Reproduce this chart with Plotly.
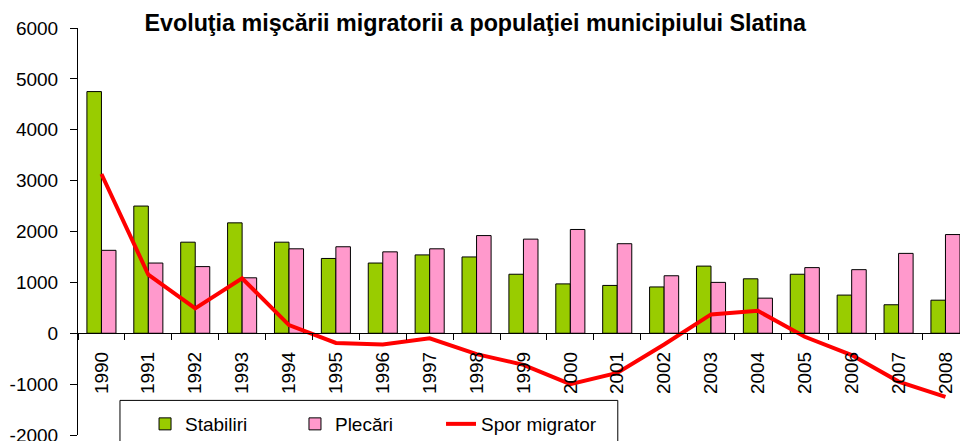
import plotly.graph_objects as go

years = [str(y) for y in range(1990, 2009)]
stabiliri = [4750, 2500, 1790, 2170, 1790, 1470, 1380, 1540, 1500, 1160, 970, 940, 910, 1320, 1070, 1160, 750, 560, 650]
plecari = [1630, 1380, 1310, 1090, 1660, 1700, 1600, 1660, 1920, 1850, 2040, 1760, 1130, 1000, 690, 1290, 1250, 1570, 1940]
spor = [3130, 1150, 490, 1080, 160, -190, -220, -100, -410, -620, -1000, -780, -220, 370, 440, -70, -430, -950, -1250]
y_ticks = [-2000, -1000, 0, 1000, 2000, 3000, 4000, 5000, 6000]
y_tick_text = ["-2000", "-1000", "0", "1000", "2000", "3000", "4000", "5000", "6000"]

FONT = "Liberation Sans, Arial, sans-serif"

fig = go.Figure()
fig.add_trace(go.Bar(x=years, y=stabiliri, name="Stabiliri", legend="legend",
                     marker=dict(color="#99CC00", line=dict(color="black", width=1))))
fig.add_trace(go.Bar(x=years, y=plecari, name="Plecări", legend="legend2",
                     marker=dict(color="#FF99CC", line=dict(color="black", width=1))))
fig.add_trace(go.Scatter(x=years, y=spor, name="Spor migrator", mode="lines", legend="legend3",
                         line=dict(color="#FF0000", width=4)))

leg_common = dict(orientation="h", xanchor="left", y=0.027, yanchor="middle",
                  bgcolor="rgba(0,0,0,0)", font=dict(size=19, family=FONT))

fig.update_layout(
    width=960, height=441,
    margin=dict(l=78, r=0, t=28, b=6, autoexpand=False),
    paper_bgcolor="white", plot_bgcolor="white",
    barmode="group", bargap=0.38, bargroupgap=0,
    font=dict(family=FONT, size=19, color="black"),
    title=dict(text="<b>Evoluţia mişcării migratorii a populaţiei municipiului Slatina</b>",
               x=0.495, xanchor="center", yref="container", y=(441 - 23) / 441, yanchor="middle",
               font=dict(size=23.3, family=FONT, color="black")),
    showlegend=True,
    legend=dict(x=0.0760, **leg_common),
    legend2=dict(x=0.2460, **leg_common),
    legend3=dict(x=0.4116, **leg_common),
    xaxis=dict(type="category", range=[-0.5, 18.31], anchor="free", position=0.25, automargin=False,
               showline=True, linecolor="black", linewidth=1,
               ticks="outside", ticklen=6, tickcolor="black", tickson="boundaries",
               tickangle=-90, ticklabelstandoff=10, showgrid=False, zeroline=False,
               ticklabeloverflow="allow"),
    yaxis=dict(range=[-2000, 6000], tickvals=y_ticks, ticktext=y_tick_text, automargin=False,
               showline=True, linecolor="black", linewidth=1,
               ticks="outside", ticklen=7, tickcolor="black", showgrid=False, zeroline=False,
               ticklabelstandoff=8, ticklabeloverflow="allow"),
    shapes=[dict(type="rect", xref="paper", yref="paper", x0=0.0476, x1=0.612, y0=-0.04, y1=0.085,
                 line=dict(color="black", width=1), fillcolor="rgba(0,0,0,0)")],
)

fig.write_html("out.html", config={"displayModeBar": False},
               post_script="document.body.style.margin='0';document.body.style.overflow='hidden';")
